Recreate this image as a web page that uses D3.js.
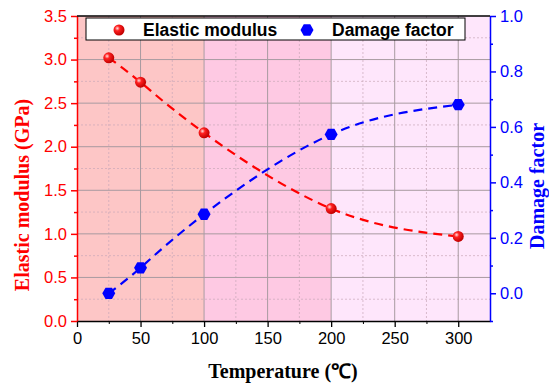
<!DOCTYPE html>
<html>
<head>
<meta charset="utf-8">
<script src="https://cdn.jsdelivr.net/npm/d3@7"></script>
<style>
  body { margin: 0; background: #fff; }
  .tick text { font-family: "Liberation Sans", Arial, sans-serif; font-size: 16.5px; }
  .axis-title { font-family: "Liberation Serif", "Times New Roman", serif; font-weight: bold; font-size: 20px; }
  .legend-text { font-family: "Liberation Sans", Arial, sans-serif; font-weight: bold; font-size: 17.5px; }
</style>
</head>
<body>
<div id="chart"></div>
<script>
// data
const temperatures = [25, 50, 100, 200, 300];
const elasticModulus = [3.02, 2.74, 2.16, 1.29, 0.97];
const damageFactor = [0.0, 0.092, 0.285, 0.573, 0.68];
const bands = [
    { from: 0, to: 100, color: '#fdc6c6' },
    { from: 100, to: 200, color: '#fec9e3' },
    { from: 200, to: 325, color: '#fee6fb' }
];
const xTicks = [0, 50, 100, 150, 200, 250, 300];
const leftTicks = [0, 0.5, 1.0, 1.5, 2.0, 2.5, 3.0, 3.5];
const rightTicks = [0, 0.2, 0.4, 0.6, 0.8, 1.0];

const width = 549, height = 387;
const margin = { top: 16, right: 59, bottom: 66, left: 77 };
const w = width - margin.left - margin.right;
const h = height - margin.top - margin.bottom;

const svg = d3.select('#chart').append('svg')
    .attr('width', width)
    .attr('height', height);

const chart = svg.append('g')
    .attr('transform', `translate(${margin.left},${margin.top})`);

const x = d3.scaleLinear().domain([0, 325]).range([0, w]);
const yL = d3.scaleLinear().domain([0, 3.5]).range([h, 0]);
const yR = d3.scaleLinear().domain([-0.1, 1.0]).range([h, 0]);

// background bands
chart.selectAll('.band')
    .data(bands)
    .join('rect')
    .attr('class', 'band')
    .attr('x', d => x(d.from))
    .attr('width', d => x(d.to) - x(d.from))
    .attr('y', 0)
    .attr('height', h)
    .attr('fill', d => d.color);

// minor grid (dotted)
const minorX = d3.range(25, 325, 50);
const minorY = d3.range(0.25, 3.5, 0.5);
chart.selectAll('.mgx').data(minorX).join('line')
    .attr('x1', d => x(d)).attr('x2', d => x(d))
    .attr('y1', 0).attr('y2', h)
    .attr('stroke', '#c8a8b8').attr('stroke-width', 0.7)
    .attr('stroke-dasharray', '2,2');
chart.selectAll('.mgy').data(minorY).join('line')
    .attr('y1', d => yL(d)).attr('y2', d => yL(d))
    .attr('x1', 0).attr('x2', w)
    .attr('stroke', '#c8a8b8').attr('stroke-width', 0.7)
    .attr('stroke-dasharray', '2,2');

// major grid
chart.selectAll('.gx').data(xTicks.slice(1)).join('line')
    .attr('x1', d => x(d)).attr('x2', d => x(d))
    .attr('y1', 0).attr('y2', h)
    .attr('stroke', '#a89aa0').attr('stroke-width', 1);
chart.selectAll('.gy').data(leftTicks.slice(1, -1)).join('line')
    .attr('y1', d => yL(d)).attr('y2', d => yL(d))
    .attr('x1', 0).attr('x2', w)
    .attr('stroke', '#a89aa0').attr('stroke-width', 1);

// curves
const lineL = d3.line()
    .x((d, i) => x(temperatures[i]))
    .y(d => yL(d))
    .curve(d3.curveNatural);
const lineR = d3.line()
    .x((d, i) => x(temperatures[i]))
    .y(d => yR(d))
    .curve(d3.curveNatural);

chart.append('path')
    .datum(elasticModulus)
    .attr('d', lineL)
    .attr('fill', 'none')
    .attr('stroke', '#ff0000')
    .attr('stroke-width', 2.2)
    .attr('stroke-dasharray', '9,6');

chart.append('path')
    .datum(damageFactor)
    .attr('d', lineR)
    .attr('fill', 'none')
    .attr('stroke', '#0000ff')
    .attr('stroke-width', 2.2)
    .attr('stroke-dasharray', '9,6');

// sphere gradient for red markers
const defs = svg.append('defs');
const grad = defs.append('radialGradient')
    .attr('id', 'redball')
    .attr('cx', '35%').attr('cy', '35%').attr('r', '65%');
grad.append('stop').attr('offset', '0%').attr('stop-color', '#ffe0e0');
grad.append('stop').attr('offset', '35%').attr('stop-color', '#ff2020');
grad.append('stop').attr('offset', '100%').attr('stop-color', '#c00000');

const hexagon = r => {
    const pts = d3.range(6).map(k => {
        const a = Math.PI / 3 * k;
        return [r * Math.cos(a), r * Math.sin(a)];
    });
    return 'M' + pts.map(p => p.join(',')).join('L') + 'Z';
};

chart.selectAll('.pt-l')
    .data(elasticModulus)
    .join('circle')
    .attr('class', 'pt-l')
    .attr('cx', (d, i) => x(temperatures[i]))
    .attr('cy', d => yL(d))
    .attr('r', 5.5)
    .attr('fill', 'url(#redball)');

chart.selectAll('.pt-r')
    .data(damageFactor)
    .join('path')
    .attr('class', 'pt-r')
    .attr('transform', (d, i) => `translate(${x(temperatures[i])},${yR(d)})`)
    .attr('d', hexagon(6.5))
    .attr('fill', '#0000ff');

// axes
const xAxis = d3.axisBottom(x).tickValues(xTicks).tickSize(6).tickPadding(5).tickSizeOuter(0);
const xMinor = d3.axisBottom(x).tickValues(minorX).tickSize(3).tickFormat('').tickSizeOuter(0);
const gx = chart.append('g').attr('transform', `translate(0,${h})`).call(xAxis);
chart.append('g').attr('transform', `translate(0,${h})`).call(xMinor).select('.domain').remove();
gx.selectAll('line, path').attr('stroke', '#000').attr('stroke-width', 1.3);
gx.selectAll('text').attr('fill', '#000');

const lAxis = d3.axisLeft(yL).tickValues(leftTicks).tickFormat(d3.format('.1f')).tickSize(6).tickPadding(4).tickSizeOuter(0);
const lMinor = d3.axisLeft(yL).tickValues(minorY).tickSize(3).tickFormat('');
const gl = chart.append('g').call(lAxis);
const glm = chart.append('g').call(lMinor);
glm.select('.domain').remove();
gl.selectAll('line, path').attr('stroke', '#ff0000').attr('stroke-width', 1.5);
glm.selectAll('line').attr('stroke', '#ff0000').attr('stroke-width', 1.5);
gl.selectAll('text').attr('fill', '#ff0000');

const rAxis = d3.axisRight(yR).tickValues(rightTicks).tickFormat(d3.format('.1f')).tickSize(6).tickPadding(4).tickSizeOuter(0);
const rMinor = d3.axisRight(yR).tickValues(d3.range(-0.1, 1.0, 0.2)).tickSize(3).tickFormat('');
const gr = chart.append('g').attr('transform', `translate(${w},0)`).call(rAxis);
const grm = chart.append('g').attr('transform', `translate(${w},0)`).call(rMinor);
grm.select('.domain').remove();
gr.selectAll('line, path').attr('stroke', '#0000ff').attr('stroke-width', 1.5);
grm.selectAll('line').attr('stroke', '#0000ff').attr('stroke-width', 1.5);
gr.selectAll('text').attr('fill', '#0000ff');

// top border
chart.append('line')
    .attr('x1', 0).attr('x2', w)
    .attr('y1', 0).attr('y2', 0)
    .attr('stroke', '#000').attr('stroke-width', 1.3);

// legend
const legend = chart.append('g').attr('transform', `translate(${86 - margin.left},${18 - margin.top})`);
legend.append('rect')
    .attr('width', 379).attr('height', 22)
    .attr('fill', '#fff').attr('stroke', '#000').attr('stroke-width', 1);
legend.append('circle')
    .attr('cx', 33).attr('cy', 12).attr('r', 5.5)
    .attr('fill', 'url(#redball)');
legend.append('text').attr('class', 'legend-text')
    .attr('x', 57).attr('y', 18).text('Elastic modulus');
legend.append('path')
    .attr('transform', 'translate(221,12)')
    .attr('d', hexagon(6.5))
    .attr('fill', '#0000ff');
legend.append('text').attr('class', 'legend-text')
    .attr('x', 246).attr('y', 18).text('Damage factor');

// axis titles
svg.append('text').attr('class', 'axis-title')
    .attr('text-anchor', 'middle')
    .attr('x', 283).attr('y', 378)
    .attr('fill', '#000')
    .text('Temperature (℃)');

svg.append('text').attr('class', 'axis-title')
    .attr('text-anchor', 'middle')
    .attr('transform', `translate(29,${195}) rotate(-90)`)
    .attr('fill', '#ff0000')
    .text('Elastic modulus (GPa)');

svg.append('text').attr('class', 'axis-title')
    .attr('text-anchor', 'middle')
    .attr('transform', `translate(544,${186}) rotate(-90)`)
    .attr('fill', '#0000ff')
    .text('Damage factor');
</script>
</body>
</html>
